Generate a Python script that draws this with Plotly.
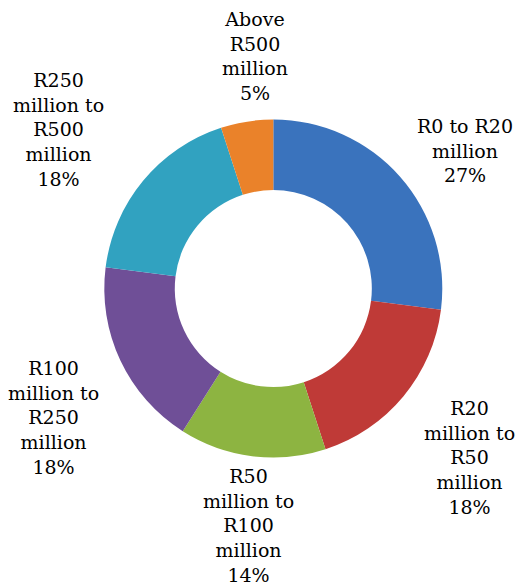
import plotly.graph_objects as go

categories = [
    "R0 to R20 million",
    "R20 million to R50 million",
    "R50 million to R100 million",
    "R100 million to R250 million",
    "R250 million to R500 million",
    "Above R500 million",
]
display_labels = [
    "R0 to R20<br>million",
    "R20<br>million to<br>R50<br>million",
    "R50<br>million to<br>R100<br>million",
    "R100<br>million to<br>R250<br>million",
    "R250<br>million to<br>R500<br>million",
    "Above<br>R500<br>million",
]
shares = [27, 18, 14, 18, 18, 5]
colors = ["#3a73bd", "#bf3a37", "#8db441", "#6f4f97", "#31a2c0", "#ea822a"]

# label box centres in pixels (layout only)
label_pos_px = [(465, 151), (469, 457), (248, 525), (53, 417), (58, 129), (255, 56)]

W, H = 515, 585
dom_px_x = (104.3, 442.3)
dom_px_y = (119.3, 457.7)

fig = go.Figure(
    go.Pie(
        labels=categories,
        values=shares,
        textinfo="none",
        hole=0.583,
        sort=False,
        direction="clockwise",
        rotation=0,
        marker=dict(colors=colors, line=dict(width=0)),
        showlegend=False,
        hoverinfo="label+percent",
        domain=dict(
            x=[dom_px_x[0] / W, dom_px_x[1] / W],
            y=[1 - dom_px_y[1] / H, 1 - dom_px_y[0] / H],
        ),
    )
)

total = sum(shares)
annotations = []
for lab, v, (px, py) in zip(display_labels, shares, label_pos_px):
    pct = round(100 * v / total)
    annotations.append(
        dict(
            x=px / W,
            y=1 - py / H,
            xref="paper",
            yref="paper",
            xanchor="center",
            yanchor="middle",
            align="center",
            showarrow=False,
            text=f"{lab}<br>{pct}%",
            font=dict(family="DejaVu Serif", size=19, color="#000000"),
        )
    )

fig.update_layout(
    width=W,
    height=H,
    margin=dict(l=0, r=0, t=0, b=0),
    paper_bgcolor="white",
    plot_bgcolor="white",
    annotations=annotations,
)

fig.write_html(
    "out.html",
    config={"displayModeBar": False},
    post_script="document.body.style.margin='0';document.body.style.overflow='hidden';",
)
